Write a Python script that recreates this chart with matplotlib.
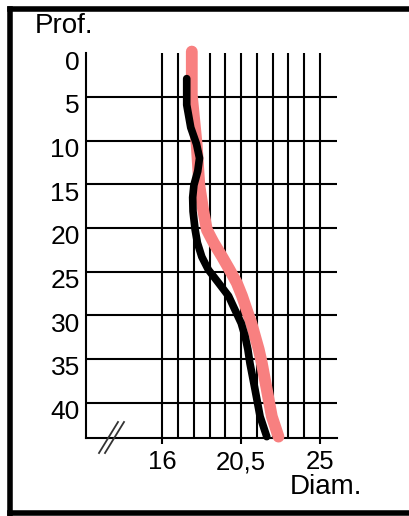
import matplotlib
matplotlib.use("Agg")
import matplotlib.pyplot as plt
from matplotlib.lines import Line2D
from matplotlib.transforms import ScaledTranslation

# Depth profile (Prof.) against diameter (Diam.) for two measurement runs
depth_ticks = [0, 5, 10, 15, 20, 25, 30, 35, 40]
depth_lines = [5, 10, 15, 20, 25, 30, 35, 40]
diam_grid = [16.0, 16.9, 17.8, 18.7, 19.6, 20.5, 21.4, 22.3, 23.2, 24.1, 25.0]
diam_ticks = [16, 20.5, 25]
diam_tick_labels = ["16", "20,5", "25"]

pink_depth = [-0.2, 4.8, 10.5, 15.1, 18.1, 20.2, 21.1, 21.7, 23.3, 24.8, 26.3,
              27.8, 29.4, 30.9, 32.4, 33.9, 35.5, 38.5, 41.6, 43.9]
pink_diam = [17.68, 17.68, 17.96, 18.11, 18.34, 18.54, 18.77, 18.93, 19.41,
             19.84, 20.25, 20.55, 20.82, 21.08, 21.29, 21.5, 21.68, 21.96,
             22.25, 22.63]

black_depth = [2.9, 5.9, 8.5, 10.4, 12.0, 13.5, 15.1, 16.5, 18.1, 20.2, 21.7,
               23.3, 24.8, 26.3, 27.8, 29.4, 30.9, 32.4, 33.9, 35.5, 38.5,
               41.6, 43.9]
black_diam = [17.39, 17.39, 17.62, 17.95, 18.12, 18.02, 17.8, 17.73, 17.75,
              17.87, 18.0, 18.25, 18.63, 19.21, 19.78, 20.15, 20.5, 20.72,
              20.88, 21.0, 21.29, 21.58, 21.96]

plt.rcParams["font.family"] = ["Liberation Sans", "DejaVu Sans"]

W, H = 409, 516
fig = plt.figure(figsize=(W / 100, H / 100), dpi=100)
fig.patch.set_facecolor("white")

# axes area in pixel terms
left, right, top, bottom = 86, 337, 53.3, 437.5
ax = fig.add_axes([left / W, 1 - bottom / H, (right - left) / W, (bottom - top) / H])
ax.set_xlim(11.64, 25.97)
ax.set_ylim(44, 0)

grid_kw = dict(color="black", linewidth=1.5)
for x in diam_grid:
    ax.axvline(x, **grid_kw, zorder=1)
ax.hlines(depth_lines, 11.64, 25.97, **grid_kw, zorder=1)

for side in ("top", "right"):
    ax.spines[side].set_visible(False)
for side in ("left", "bottom"):
    ax.spines[side].set_linewidth(1.5)
    ax.spines[side].set_color("black")

ax.plot(pink_diam, pink_depth, color="#F88080", linewidth=8.5,
        solid_capstyle="round", solid_joinstyle="round", zorder=3, clip_on=False)
ax.plot(black_diam, black_depth, color="black", linewidth=5.5,
        solid_capstyle="round", solid_joinstyle="round", zorder=4, clip_on=False)

ax.set_yticks(depth_ticks)
ax.set_yticklabels([str(d) for d in depth_ticks])
ax.tick_params(axis="y", length=0, pad=4.5, labelsize=19)
shift = ScaledTranslation(0, -5 / 72, fig.dpi_scale_trans)
for lab in ax.get_yticklabels():
    lab.set_transform(lab.get_transform() + shift)

ax.set_xticks(diam_ticks)
ax.set_xticklabels(diam_tick_labels)
ax.tick_params(axis="x", length=4.3, width=1.5, direction="out", pad=5, labelsize=18.5)

fig.text(35 / W, 1 - 26 / H, "Prof.", fontsize=20, ha="left", va="center")
fig.text(290 / W, 1 - 487.5 / H, "Diam.", fontsize=20, ha="left", va="center")

# axis break marks
for dx in (0, 6):
    xs = [(99 + dx) / W, (118 + dx) / W]
    ys = [1 - 453 / H, 1 - 422 / H]
    fig.add_artist(Line2D(xs, ys, color="#333333", linewidth=1.3,
                          transform=fig.transFigure))

# outer frame
fk = dict(color="black", linewidth=4, transform=fig.transFigure, solid_capstyle="projecting")
fig.add_artist(Line2D([10 / W, 1.05], [1 - 9 / H, 1 - 9 / H], **fk))
fig.add_artist(Line2D([10 / W, 10 / W], [1 - 9 / H, -0.05], **fk))
fig.add_artist(Line2D([10 / W, 1.05], [1 - 513 / H, 1 - 513 / H], **fk))

fig.savefig("out.png", dpi=100, facecolor="white")
